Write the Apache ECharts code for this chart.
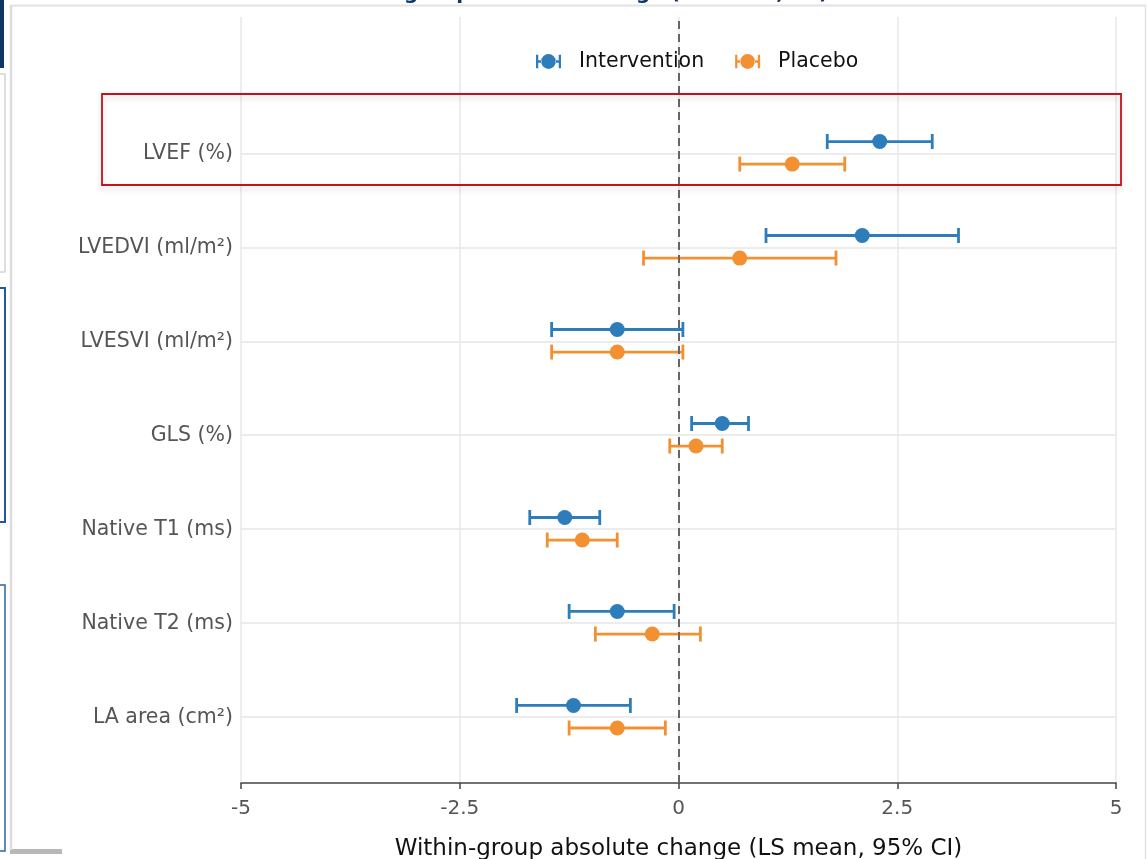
<!DOCTYPE html>
<html>
<head>
    <meta charset="utf-8"/>
    <title>Within-group change</title>
    <script src="https://cdn.jsdelivr.net/npm/echarts@6/dist/echarts.min.js"></script>
    <style>
        html, body { margin: 0; padding: 0; background: #fff; }
    </style>
</head>
<body>

<div id="main" style="width: 1147px;height:859px;"></div>

<script>
    // outcome rows, top to bottom
    var categories = ['LVEF (%)', 'LVEDVI (ml/m²)', 'LVESVI (ml/m²)', 'GLS (%)', 'Native T1 (ms)', 'Native T2 (ms)', 'LA area (cm²)'];

    // LS mean and 95% CI bounds
    var interventionMean = [2.3, 2.1, -0.7, 0.5, -1.3, -0.7, -1.2];
    var interventionLow  = [1.7, 1.0, -1.45, 0.15, -1.7, -1.25, -1.85];
    var interventionHigh = [2.9, 3.2, 0.05, 0.8, -0.9, -0.05, -0.55];

    var placeboMean = [1.3, 0.7, -0.7, 0.2, -1.1, -0.3, -0.7];
    var placeboLow  = [0.7, -0.4, -1.45, -0.1, -1.5, -0.95, -1.25];
    var placeboHigh = [1.9, 1.8, 0.05, 0.5, -0.7, 0.25, -0.15];

    var xTicks = [-5, -2.5, 0, 2.5, 5];

    var blue = '#2d7dbb';
    var orange = '#f39032';

    var n = categories.length;
    function rowPos(i) { return n - 1 - i; }

    function pointData(mean, off) {
        return mean.map(function (m, i) { return [m, rowPos(i) + off]; });
    }
    function barData(low, high, off) {
        return low.map(function (l, i) { return [rowPos(i) + off, l, high[i]]; });
    }

    function renderBar(params, api) {
        var y = api.value(0);
        var p1 = api.coord([api.value(1), y]);
        var p2 = api.coord([api.value(2), y]);
        var cap = 7.5;
        var style = { stroke: api.visual('color'), lineWidth: 2.8, fill: null };
        return {
            type: 'group',
            children: [
                { type: 'line', shape: { x1: p1[0], y1: p1[1], x2: p2[0], y2: p2[1] }, style: style },
                { type: 'line', shape: { x1: p1[0], y1: p1[1] - cap, x2: p1[0], y2: p1[1] + cap }, style: style },
                { type: 'line', shape: { x1: p2[0], y1: p2[1] - cap, x2: p2[0], y2: p2[1] + cap }, style: style }
            ]
        };
    }

    // cap - bar - dot - bar - cap
    var legendIcon = 'path://M0,1h2v12h-2z M20,1h2v12h-2z M0,6h5v2.2h-5z M17,6h5v2.2h-5z M4.5,7a6.5,6.5 0 1,0 13,0a6.5,6.5 0 1,0 -13,0z';

    var offUp = 0.125, offDown = -0.115;

    var myChart = echarts.init(document.getElementById('main'));

    var option = {
        backgroundColor: '#fff',
        animation: false,
        textStyle: { fontFamily: 'DejaVu Sans' },
        graphic: [
            // page bits around the card (cropped screenshot)
            { type: 'rect', shape: { x: 0, y: 0, width: 4, height: 68 }, style: { fill: '#0d3566' }, z: 0 },
            { type: 'rect', shape: { x: -4, y: 74, width: 9, height: 198 }, style: { fill: '#fff', stroke: '#d4d4d4', lineWidth: 1.5 }, z: 0 },
            { type: 'rect', shape: { x: -4, y: 288, width: 9, height: 234 }, style: { fill: '#fff', stroke: '#1f59a3', lineWidth: 2 }, z: 0 },
            { type: 'rect', shape: { x: -4, y: 585, width: 9, height: 266 }, style: { fill: '#fff', stroke: '#2a64ad', lineWidth: 1.5 }, z: 0 },
            { type: 'rect', shape: { x: 10, y: 849, width: 52, height: 5 }, style: { fill: '#b8b8b8' }, z: 0 },
            { type: 'line', shape: { x1: 11, y1: 5, x2: 11, y2: 850 }, style: { stroke: '#dcdcdc', lineWidth: 2.5 }, z: 0 },
            { type: 'line', shape: { x1: 11, y1: 5.5, x2: 1146, y2: 5.5 }, style: { stroke: '#e2e2e2', lineWidth: 2 }, z: 0 },
            { type: 'line', shape: { x1: 1145.5, y1: 5, x2: 1145.5, y2: 859 }, style: { stroke: '#e2e2e2', lineWidth: 1.5 }, z: 0 },
            {
                type: 'text', x: 322, y: 3.5, z: 0,
                style: {
                    text: 'Within-group absolute change (LS mean, SE)',
                    font: 'bold 20px "DejaVu Sans"', fill: '#0d3566',
                    textVerticalAlign: 'bottom'
                }
            },
            // highlight box around LVEF row
            {
                type: 'rect', z: 10,
                shape: { x: 102, y: 94, width: 1019, height: 91 },
                style: {
                    fill: 'rgba(0,0,0,0)', stroke: '#c4121a', lineWidth: 1.8,
                    shadowBlur: 6, shadowColor: 'rgba(0,0,0,0.18)', shadowOffsetY: 3
                }
            }
        ],
        legend: {
            left: 531,
            top: 46,
            itemWidth: 25,
            itemHeight: 16,
            itemGap: 31,
            textStyle: { fontSize: 20.5, color: '#111', padding: [0, 0, 0, 13] },
            data: [
                { name: 'Intervention', icon: legendIcon },
                { name: 'Placebo', icon: legendIcon }
            ]
        },
        grid: {
            left: 241,
            right: 31,
            top: 17,
            bottom: 76,
            outerBoundsMode: 'none',
            containLabel: false
        },
        xAxis: {
            type: 'value',
            min: -5,
            max: 5,
            interval: 2.5,
            name: 'Within-group absolute change (LS mean, 95% CI)',
            nameLocation: 'middle',
            nameGap: 55,
            nameTextStyle: { fontSize: 23, color: '#111' },
            axisLine: { show: true, onZero: false, lineStyle: { color: '#444', width: 1.5 } },
            axisTick: { show: true, length: 6, lineStyle: { color: '#444', width: 1.5 } },
            axisLabel: { fontSize: 20, color: '#555', margin: 16 },
            splitLine: { show: true, lineStyle: { color: '#e8e8e8', width: 1.5 } }
        },
        yAxis: {
            type: 'value',
            min: -0.7,
            max: 7.45,
            axisLine: { show: false },
            axisTick: { show: false, customValues: [0, 1, 2, 3, 4, 5, 6] },
            axisLabel: {
                customValues: [0, 1, 2, 3, 4, 5, 6],
                fontSize: 20.5,
                color: '#555',
                margin: 8,
                padding: [4, 0, 0, 0],
                formatter: function (v) { return categories[n - 1 - Math.round(v)]; }
            },
            splitLine: { show: true, lineStyle: { color: '#e6e6e6', width: 1.5 } }
        },
        series: [
            {
                name: 'Intervention',
                type: 'custom',
                renderItem: renderBar,
                itemStyle: { color: blue },
                encode: { x: [1, 2], y: 0 },
                data: barData(interventionLow, interventionHigh, offUp),
                z: 3,
                markLine: {
                    silent: true,
                    symbol: 'none',
                    label: { show: false },
                    lineStyle: { color: '#666', type: [8, 5], width: 2 },
                    data: [{ xAxis: 0 }]
                }
            },
            {
                name: 'Intervention',
                type: 'scatter',
                symbolSize: 15,
                itemStyle: { color: blue, opacity: 1 },
                data: pointData(interventionMean, offUp),
                z: 4
            },
            {
                name: 'Placebo',
                type: 'custom',
                renderItem: renderBar,
                itemStyle: { color: orange },
                encode: { x: [1, 2], y: 0 },
                data: barData(placeboLow, placeboHigh, offDown),
                z: 3
            },
            {
                name: 'Placebo',
                type: 'scatter',
                symbolSize: 15,
                itemStyle: { color: orange, opacity: 1 },
                data: pointData(placeboMean, offDown),
                z: 4
            }
        ]
    };

    myChart.setOption(option);
</script>

</body>
</html>
